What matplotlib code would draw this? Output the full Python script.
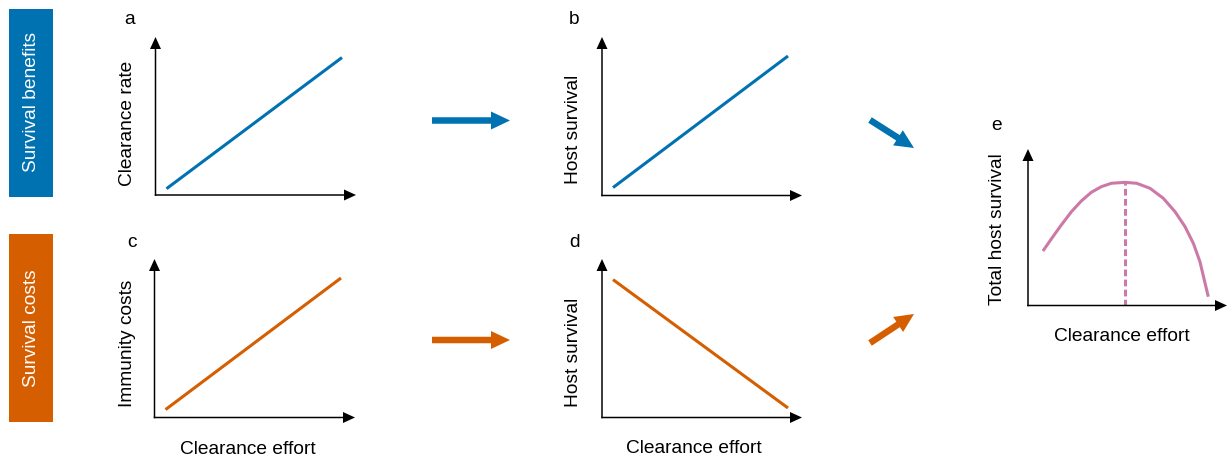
import matplotlib
matplotlib.use("Agg")
import matplotlib.pyplot as plt
from matplotlib.patches import FancyArrow, Rectangle
import numpy as np

plt.rcParams['font.family'] = ['Liberation Sans', 'DejaVu Sans']

BLUE = '#0072B2'
ORANGE = '#D55E00'
PINK = '#CC79A7'

# schematic relationships, axes scaled 0..1
effort = [0.055, 0.93]
clearance_rate = [0.04, 0.87]
immunity_costs = [0.05, 0.88]
survival_benefit = [0.05, 0.88]
survival_cost = [0.87, 0.06]

# total host survival against clearance effort
total_effort = [0.075, 0.117, 0.167, 0.218, 0.268, 0.318, 0.368, 0.419,
                0.487, 0.546, 0.613, 0.680, 0.739, 0.789, 0.831, 0.864, 0.906]
total_survival = [0.348, 0.425, 0.514, 0.599, 0.668, 0.723, 0.759, 0.781,
                  0.787, 0.781, 0.749, 0.685, 0.599, 0.504, 0.397, 0.280, 0.056]

W, H = 1229, 461
FS = 13.8
fig = plt.figure(figsize=(W / 100, H / 100), dpi=100)

# overlay in pixel units for boxes, arrows and labels
ov = fig.add_axes([0, 0, 1, 1], zorder=5)
ov.set_xlim(0, W)
ov.set_ylim(H, 0)
ov.axis('off')
ov.patch.set_alpha(0)


def panel(x0, y0, x1, y1):
    # x0,y0 = origin, x1 = tip of x axis, y1 = tip of y axis (pixels)
    ax = fig.add_axes([x0 / W, 1 - y0 / H, (x1 - x0) / W, (y0 - y1) / H])
    ax.set_xlim(0, 1)
    ax.set_ylim(0, 1)
    ax.axis('off')
    kw = dict(width=1.5, head_width=11, head_length=12,
              length_includes_head=True, color='black', lw=0)
    ov.add_patch(FancyArrow(x0 - 0.75, y0, x1 - x0 + 0.75, 0, **kw))
    ov.add_patch(FancyArrow(x0, y0 + 0.75, 0, y1 - y0 - 0.75, **kw))
    return ax


def big_arrow(x, y, dx, dy, color):
    ov.add_patch(FancyArrow(x, y, dx, dy, width=6.5, head_width=18,
                            head_length=19, length_includes_head=True,
                            color=color, lw=0))


# side boxes
ov.add_patch(Rectangle((9, 9), 44, 188, color=BLUE, lw=0))
ov.add_patch(Rectangle((9, 234), 44, 188, color=ORANGE, lw=0))
ov.text(31, 102, 'Survival benefits', rotation=90, color='white',
        fontsize=FS, ha='center', va='center')
ov.text(31, 328, 'Survival costs', rotation=90, color='white',
        fontsize=FS, ha='center', va='center')

# panel a
ax = panel(155.5, 195, 356, 37)
ax.plot(effort, clearance_rate, color=BLUE, lw=2.2, solid_capstyle='butt')
ov.text(130, 20, 'a', fontsize=FS, ha='center', va='center')
ov.text(127.5, 123, 'Clearance rate', rotation=90, fontsize=FS,
        ha='center', va='center')

# panel b
ax = panel(602, 195.5, 802, 37)
ax.plot(effort, survival_benefit, color=BLUE, lw=2.2, solid_capstyle='butt')
ov.text(574, 19, 'b', fontsize=FS, ha='center', va='center')
ov.text(574, 129, 'Host survival', rotation=90, fontsize=FS,
        ha='center', va='center')

# panel c
ax = panel(154.5, 417.5, 355, 259)
ax.plot(effort, immunity_costs, color=ORANGE, lw=2.2, solid_capstyle='butt')
ov.text(131.5, 242, 'c', fontsize=FS, ha='center', va='center')
ov.text(127.5, 343, 'Immunity costs', rotation=90, fontsize=FS,
        ha='center', va='center')
ov.text(248, 449, 'Clearance effort', fontsize=FS, ha='center', va='center')

# panel d
ax = panel(602, 417.5, 802, 259)
ax.plot(effort, survival_cost, color=ORANGE, lw=2.2, solid_capstyle='butt')
ov.text(574, 242, 'd', fontsize=FS, ha='center', va='center')
ov.text(573, 352, 'Host survival', rotation=90, fontsize=FS,
        ha='center', va='center')
ov.text(694, 448, 'Clearance effort', fontsize=FS, ha='center', va='center')

# panel e
ax = panel(1028, 305.5, 1227, 149)
ax.plot(total_effort, total_survival, color=PINK, lw=2.2,
        solid_capstyle='butt', solid_joinstyle='round')
peak = int(np.argmax(total_survival))
ax.plot([total_effort[peak]] * 2, [0, total_survival[peak]], color=PINK,
        lw=2.2, ls=(0, (2.2, 1.1)))
ov.text(996.5, 125, 'e', fontsize=FS, ha='center', va='center')
ov.text(998, 229, 'Total host survival', rotation=90, fontsize=FS,
        ha='center', va='center')
ov.text(1122, 336.5, 'Clearance effort', fontsize=FS, ha='center', va='center')

# flow arrows between panels
big_arrow(432, 120.5, 78, 0, BLUE)
big_arrow(432, 340, 78, 0, ORANGE)
big_arrow(870, 120, 44, 28, BLUE)
big_arrow(870, 343, 44, -29, ORANGE)

fig.savefig('out.png', dpi=100)
